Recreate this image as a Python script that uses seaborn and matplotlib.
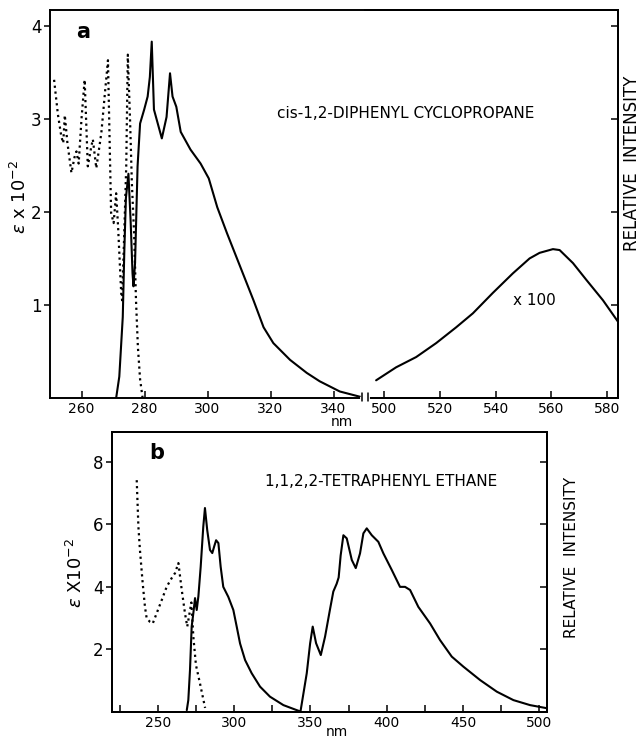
import numpy as np
import pandas as pd
import matplotlib
matplotlib.use("Agg")
import matplotlib.pyplot as plt
from matplotlib.lines import Line2D
import seaborn as sns

# ---- panel a: cis-1,2-diphenyl cyclopropane ----
a_abs_nm = [251.3, 252.5, 253.6, 254.2, 254.7, 255.5, 256.8, 257.8, 258.4, 259.1,
            260.0, 261.0, 262.0, 263.1, 263.6, 264.7, 266.3, 267.5, 268.4, 269.4,
            270.2, 271.0, 271.6, 272.6, 272.9, 273.6, 274.2, 274.7, 275.4, 276.0,
            276.7, 277.3, 277.9, 278.6, 279.4]
a_abs_eps = [3.42, 3.05, 2.81, 2.74, 3.04, 2.75, 2.42, 2.59, 2.65, 2.52,
             3.00, 3.42, 2.49, 2.70, 2.78, 2.47, 2.85, 3.30, 3.63, 1.99,
             1.88, 2.20, 1.85, 1.13, 1.05, 1.80, 2.49, 3.69, 3.00, 2.30,
             1.77, 1.05, 0.55, 0.20, 0.00]

a_exc_nm = [271.0, 272.0, 273.1, 273.6, 274.1, 274.9, 275.6, 276.2, 276.5, 277.0,
            277.8, 278.6, 279.9, 281.0, 281.7, 282.3, 283.0, 285.5, 287.0, 288.1,
            288.9, 290.1, 291.5, 294.6, 297.8, 300.4, 303.1, 306.2, 310.4, 314.6,
            317.8, 320.9, 326.2, 331.5, 335.6, 342.0, 348.8]
a_exc_eps = [0.00, 0.23, 0.87, 1.59, 2.15, 2.41, 1.90, 1.34, 1.20, 1.45,
             2.49, 2.95, 3.10, 3.24, 3.45, 3.83, 3.10, 2.79, 3.02, 3.49,
             3.24, 3.13, 2.86, 2.67, 2.52, 2.36, 2.05, 1.77, 1.41, 1.05,
             0.76, 0.59, 0.41, 0.27, 0.18, 0.07, 0.01]

a_em_nm = [497.0, 504.2, 511.4, 518.6, 525.8, 531.8, 539.0, 546.2, 552.2, 555.8,
           560.6, 563.0, 567.8, 572.6, 578.6, 584.0]
a_em_int = [0.19, 0.33, 0.44, 0.59, 0.76, 0.91, 1.13, 1.34, 1.50, 1.56,
            1.60, 1.59, 1.45, 1.27, 1.05, 0.82]

# ---- panel b: 1,1,2,2-tetraphenyl ethane ----
b_abs_nm = [236.2, 237.3, 238.3, 240.1, 241.6, 242.7, 244.9, 246.7, 249.3, 252.6,
            255.8, 259.1, 261.3, 263.5, 265.7, 267.8, 269.3, 272.0, 273.3, 275.0,
            277.7, 281.0]
b_abs_eps = [7.41, 5.92, 5.18, 4.12, 3.36, 3.00, 2.88, 2.83, 3.16, 3.58,
             4.00, 4.28, 4.44, 4.76, 3.90, 3.16, 2.73, 3.50, 2.40, 1.50,
             0.90, 0.13]

b_exc_nm = [269.0, 270.0, 271.1, 272.2, 273.3, 274.4, 275.5, 276.6, 278.1, 279.8,
            280.9, 282.4, 284.2, 285.7, 287.0, 288.2, 289.7, 291.2, 292.9, 296.2,
            299.5, 301.7, 303.9, 307.2, 311.5, 317.0, 323.5, 332.3, 341.0, 343.3]
b_exc_eps = [0.06, 0.38, 1.34, 2.73, 3.16, 3.64, 3.26, 3.70, 4.64, 5.92,
             6.52, 5.81, 5.18, 5.08, 5.30, 5.49, 5.40, 4.64, 4.00, 3.68,
             3.26, 2.73, 2.19, 1.66, 1.24, 0.81, 0.49, 0.22, 0.06, 0.02]

b_em_nm = [343.5, 347.6, 349.8, 351.5, 353.7, 356.8, 359.6, 362.9, 365.0, 367.2,
           368.5, 369.8, 371.6, 373.8, 377.1, 379.7, 382.5, 384.7, 386.9, 390.2,
           394.5, 397.8, 403.3, 408.7, 412.0, 415.3, 420.7, 428.4, 434.9, 442.6,
           450.2, 461.2, 472.1, 483.0, 493.9, 505.0]
b_em_int = [0.02, 1.24, 2.19, 2.73, 2.20, 1.82, 2.41, 3.30, 3.85, 4.10,
            4.30, 5.00, 5.65, 5.55, 4.86, 4.60, 5.07, 5.71, 5.87, 5.65,
            5.44, 5.07, 4.54, 4.00, 4.00, 3.90, 3.36, 2.83, 2.30, 1.77,
            1.45, 1.02, 0.65, 0.38, 0.22, 0.12]

a_xticks_left = [260, 280, 300, 320, 340]
a_xticks_right = [500, 520, 540, 560, 580]
a_yticks = [1, 2, 3, 4]
b_xticks = [250, 300, 350, 400, 450, 500]
b_xticks_minor = [225, 275, 325, 375, 425, 475]
b_yticks = [2, 4, 6, 8]

sns.set_theme(style="ticks")
plt.rcParams['font.family'] = ['DejaVu Sans']
plt.rcParams['text.color'] = 'black'
plt.rcParams['axes.edgecolor'] = 'black'
plt.rcParams['axes.linewidth'] = 1.4

W, H = 640, 740


def fx(x):
    return x / W


def fy(y):
    return 1 - y / H


def draw(ax, nm, vals, style):
    sns.lineplot(x=nm, y=vals, ax=ax, color='black', linestyle=style,
                 linewidth=1.5 if style == '-' else 1.6,
                 sort=False, estimator=None)


def style_axes(ax, yticks, left=True, right=True, ylim=None):
    ax.set_ylim(*ylim)
    ax.set_yticks(yticks)
    ax.tick_params(axis='x', direction='in', length=5, width=1.1,
                   labelsize=10, pad=3, colors='black')
    ax.tick_params(axis='y', direction='out', length=4, width=1.1,
                   labelsize=12, pad=2, colors='black')
    tw = None
    if right:
        # twinx re-enables left ticks on ax, so handle "left" afterwards
        tw = ax.twinx()
        tw.set_ylim(*ylim)
        tw.set_yticks(yticks)
        tw.tick_params(axis='y', direction='in', length=5, width=1.1,
                       labelright=False, colors='black')
        tw.grid(False)
    if not left:
        ax.tick_params(axis='y', left=False, labelleft=False)
    ax.grid(False)
    return tw


fig = plt.figure(figsize=(6.4, 7.4), dpi=100)

# panel a, broken x axis: two adjacent axes
x_mid = 365
axl = fig.add_axes([fx(50), fy(398), fx(x_mid - 50), (398 - 10) / H])
axr = fig.add_axes([fx(x_mid), fy(398), fx(618 - x_mid), (398 - 10) / H])

draw(axl, a_abs_nm, a_abs_eps, ':')
draw(axl, a_exc_nm, a_exc_eps, '-')
draw(axr, a_em_nm, a_em_int, '-')

axl.set_xlim(250, 350)
axr.set_xlim(493, 584)
axl.set_xticks(a_xticks_left)
axr.set_xticks(a_xticks_right)
style_axes(axl, a_yticks, left=True, right=False, ylim=(0, 4.17))
twr = style_axes(axr, a_yticks, left=False, right=True, ylim=(0, 4.17))
axl.spines['right'].set_visible(False)
axr.spines['left'].set_visible(False)
twr.spines['left'].set_visible(False)
for a in (axl, axr):
    a.set_xlabel('')
    a.set_ylabel('')

# break marks on bottom axis
fig.add_artist(Line2D([fx(362), fx(368)], [fy(398), fy(398)], color='white',
                      linewidth=3, transform=fig.transFigure))
for xb in (362, 368):
    fig.add_artist(Line2D([fx(xb), fx(xb)], [fy(393), fy(401)], color='black',
                          linewidth=1.1, transform=fig.transFigure))

fig.text(fx(83), fy(32), 'a', fontsize=15, fontweight='bold', ha='center', va='center')
fig.text(fx(277), fy(113), 'cis-1,2-DIPHENYL CYCLOPROPANE', fontsize=11,
         ha='left', va='center')
axr.text(554, 1.05, 'x 100', fontsize=11, ha='center', va='center')
fig.text(fx(20), fy(197), r'$\epsilon$ x 10$^{-2}$', fontsize=13,
         rotation=90, ha='center', va='center')
fig.text(fx(632), fy(163), 'RELATIVE  INTENSITY', fontsize=12,
         rotation=90, ha='center', va='center')
fig.text(fx(342), fy(422), 'nm', fontsize=10, ha='center', va='center')

# panel b
axb = fig.add_axes([fx(112), fy(712), fx(547 - 112), (712 - 432) / H])
draw(axb, b_abs_nm, b_abs_eps, ':')
draw(axb, b_exc_nm, b_exc_eps, '-')
draw(axb, b_em_nm, b_em_int, '-')
axb.set_xlim(220, 505)
axb.set_xticks(b_xticks)
axb.set_xticks(b_xticks_minor, minor=True)
axb.tick_params(axis='x', which='minor', direction='in', length=5, width=1.1,
                colors='black')
style_axes(axb, b_yticks, left=True, right=True, ylim=(0, 8.95))
axb.set_xlabel('')
axb.set_ylabel('')

fig.text(fx(157), fy(453), 'b', fontsize=15, fontweight='bold', ha='center', va='center')
fig.text(fx(265), fy(482), '1,1,2,2-TETRAPHENYL ETHANE', fontsize=11,
         ha='left', va='center')
fig.text(fx(76), fy(573), r'$\epsilon$ X10$^{-2}$', fontsize=13,
         rotation=90, ha='center', va='center')
fig.text(fx(572), fy(557), 'RELATIVE  INTENSITY', fontsize=11,
         rotation=90, ha='center', va='center')
fig.text(fx(337), fy(732), 'nm', fontsize=10, ha='center', va='center')

fig.savefig('out.png', dpi=100)
